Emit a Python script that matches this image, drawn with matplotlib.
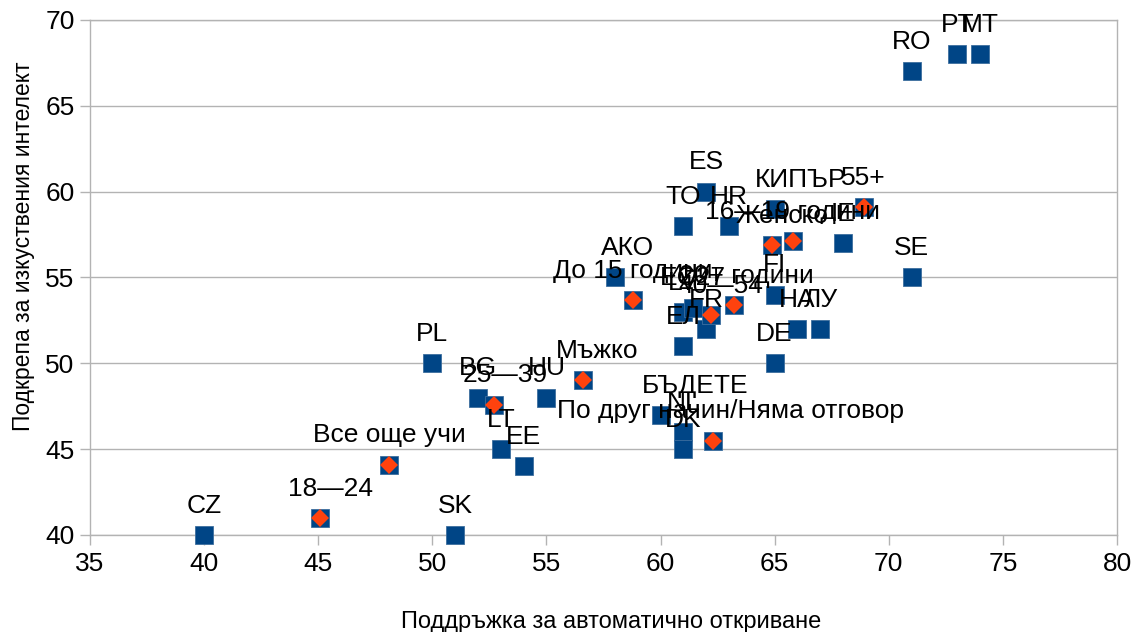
import numpy as np
import matplotlib.pyplot as plt

plt.rcParams['font.family'] = ['Liberation Sans', 'DejaVu Sans']

# държави (сини квадрати)
country_labels = ['CZ', 'SK', 'PL', 'BG', 'LT', 'EE', 'HU', 'БЪДЕТЕ', 'NL', 'DK',
                  'ES', 'ТО', 'HR', 'КИПЪР', 'SE', 'RO', 'PT', 'MT', 'FI', 'НА',
                  'ЛУ', 'DE', 'ЕЛ', 'FR', 'LV', 'ЕС27', 'АКО', 'IE']
country_x = [40, 51, 50, 52, 53, 54, 55, 60, 61, 61,
             62, 61, 63, 65, 71, 71, 73, 74, 65, 66,
             67, 65, 61, 62, 61, 61.4, 58, 68]
country_y = [40, 40, 50, 48, 45, 44, 48, 47, 46, 45,
             60, 58, 58, 59, 55, 67, 68, 68, 54, 52,
             52, 50, 51, 52, 53, 53.25, 55, 57]

# социално-демографски групи (ромбове)
group_labels = ['18—24', '25—39', '40—54', '55+', 'Мъжко', 'Женско',
                'До 15 години', '16—19 години', '20+ години', 'Все още учи',
                'По друг начин/Няма отговор']
group_x = [45.1, 52.7, 62.2, 68.9, 56.6, 64.9, 58.8, 65.8, 63.2, 48.1, 62.3]
group_y = [41.0, 47.6, 52.8, 59.1, 49.0, 56.9, 53.7, 57.1, 53.4, 44.1, 45.5]

# малки отмествания на етикетите (пиксели)
label_dx = {'БЪДЕТЕ': 35, 'КИПЪР': 26, 'АКО': 13, 'Мъжко': 14, '18—24': 10,
            '25—39': 11, 'По друг начин/Няма отговор': 17, 'Женско': 10,
            '20+ години': 13, '40—54': 10}

blue = '#004586'
orange = '#ff420e'

fig, ax = plt.subplots(figsize=(11.36, 6.32), dpi=100)
fig.subplots_adjust(left=0.0792, right=0.9833, top=0.9684, bottom=0.1535)

ax.plot(country_x, country_y, ls='none', marker='s', ms=13.5, color=blue,
        mec='#3d6e9e', mew=0.6, clip_on=False, zorder=3)
ax.plot(group_x, group_y, ls='none', marker='s', ms=13.5, color=blue,
        mec='#3d6e9e', mew=0.6, clip_on=False, zorder=3)
ax.plot(group_x, group_y, ls='none', marker='D', ms=9.5, color=orange,
        mew=0, clip_on=False, zorder=4)

for lab, x, y in list(zip(country_labels, country_x, country_y)) + list(zip(group_labels, group_x, group_y)):
    dx = label_dx.get(lab, 0) * 0.72
    ax.annotate(lab, (x, y), xytext=(dx, 16), textcoords='offset points',
                ha='center', va='baseline', fontsize=19, color='black',
                zorder=5, annotation_clip=False)

ax.set_xlim(35, 80)
ax.set_ylim(40, 70)
ax.set_xticks(np.arange(35, 81, 5))
ax.set_yticks(np.arange(40, 71, 5))
ax.grid(axis='y', color='#b3b3b3', lw=1)
ax.set_axisbelow(True)
for s in ax.spines.values():
    s.set_color('#b3b3b3')
    s.set_linewidth(1)
ax.tick_params(axis='both', colors='#b3b3b3', labelcolor='black', labelsize=19,
               length=7, width=1, direction='out')
ax.tick_params(axis='x', pad=5)
ax.tick_params(axis='y', pad=4)

ax.set_xlabel('Поддръжка за автоматично откриване', fontsize=17)
ax.xaxis.set_label_coords(0.507, -0.148)
ax.set_ylabel('Подкрепа за изкуствения интелект', fontsize=16.5)
ax.yaxis.set_label_coords(-0.054, 0.56)

fig.savefig('out.png', dpi=100)
